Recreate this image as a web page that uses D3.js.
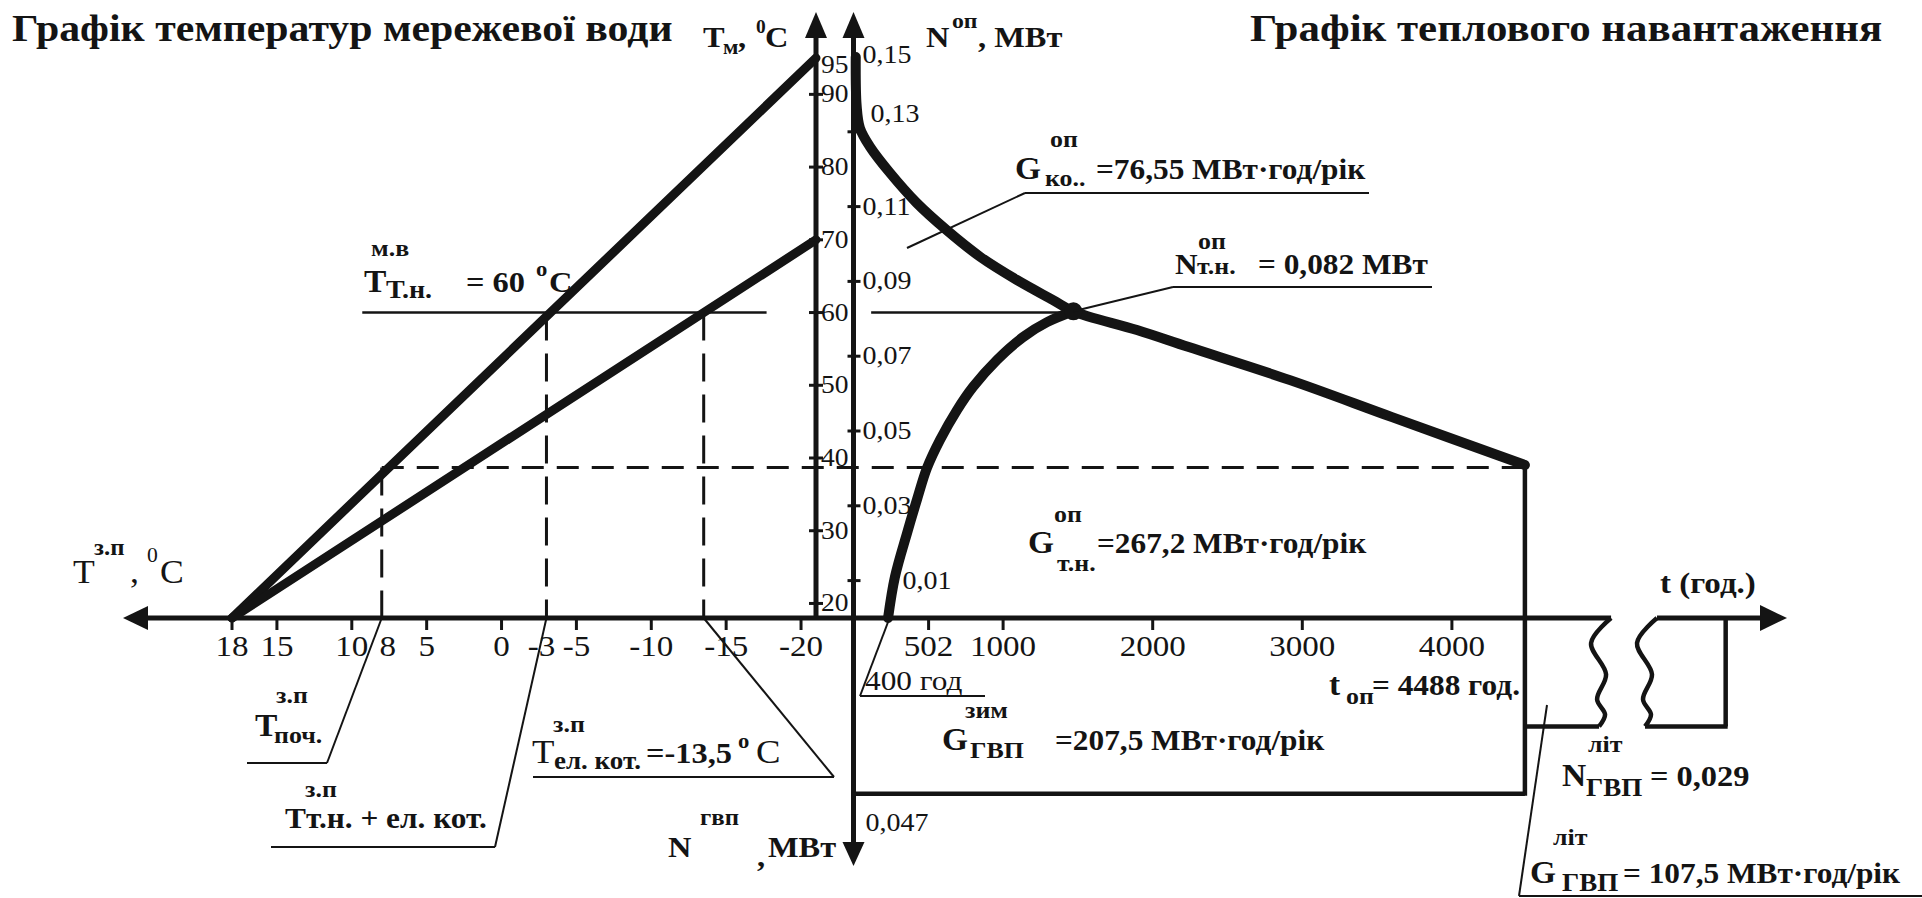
<!DOCTYPE html>
<html>
<head>
<meta charset="utf-8">
<script src="https://cdn.jsdelivr.net/npm/d3@7"></script>
<style>
  body { margin: 0; background: #fff; }
  svg text { font-family: "Liberation Serif", "Times New Roman", serif; fill: #141414; }
</style>
</head>
<body>
<svg id="chart" width="1922" height="898"></svg>
<script>
// ---- left graph: network water temperature vs outdoor temperature ----
const toutTicks = [18, 15, 10, 5, 0, -5, -10, -15, -20];
const toutLabels = [18, 15, 10, 8, 5, 0, -3, -5, -10, -15, -20];
const tmTicks = [20, 30, 40, 50, 60, 70, 80, 90];
const tmLabels = [20, 30, 40, 50, 60, 70, 80, 90, 95];
const supplyLine = [[18, 18], [-21, 95]];   // [outdoor t, water t]
const returnLine = [[18, 18], [-21, 70]];
const tStart = 8;          // T поч
const tBoth = -3;          // T т.н. + ел. кот.
const tBoiler = -13.5;     // T ел. кот.
const pumpTm = 60;         // T т.н. м.в
const startTm = 38.7;
const pumpLineOut = [9.3, -17.7];

// ---- right graph: heat load vs hours ----
const nTicks = [0.01, 0.03, 0.05, 0.07, 0.09, 0.11, 0.13];
const nLabels = ["0,01", "0,03", "0,05", "0,07", "0,09", "0,11", "0,13", "0,15"];
const hourTicks = [502, 1000, 2000, 3000, 4000];
const heatLoad = [[15, 0.150], [21, 0.137], [43, 0.131], [110, 0.126], [244, 0.119], [422, 0.111],
  [623, 0.1037], [846, 0.0966], [1091, 0.0904], [1334, 0.085], [1470, 0.082], [1895, 0.077],
  [2236, 0.0725], [2918, 0.0636], [3600, 0.0537], [4488, 0.0409]];
const pumpLoad = [[231, 0], [277, 0.011], [358, 0.0227], [424, 0.0316], [491, 0.0401], [578, 0.0476],
  [692, 0.0556], [799, 0.0618], [959, 0.069], [1133, 0.0751], [1294, 0.0791], [1470, 0.082]];
const pumpPoint = [1470, 0.082];
const heatingEnd = 4488;
const pumpLineHours = [118, 1470];
const dhwWinter = 0.047;
const dhwSummer = 0.029;
const breakHours = [5064, 5371];   // drawn positions of the axis break
const summerEnd = 5830;
const axisEnd = 6240;
// shape of the break marks: [dx px, share of summer depth]
const breakShape = [[0, 0], [-20, 0.23], [-5, 0.52], [-14, 0.75], [-6, 0.89], [-12, 1]];

const svg = d3.select("#chart");
const axisY = 618;

const xOut = d3.scaleLinear().domain([18, -21]).range([232, 816]);
const yTm = d3.scaleLinear().domain([18, 95]).range([axisY, 58]);
const xHr = d3.scaleLinear().domain([0, 1000]).range([853.5, 1003.1]);
const yN = d3.scaleLinear().domain([0, 0.15]).range([axisY, 57]);
const yDhw = d3.scaleLinear().domain([0, 0.15]).range([axisY, axisY + 561]);

const tAxisX = xOut(-21);
const nAxisX = xHr(0);

function line(x1, y1, x2, y2, w, dash) {
  const l = svg.append("line")
    .attr("x1", x1).attr("y1", y1).attr("x2", x2).attr("y2", y2)
    .attr("stroke", "#141414").attr("stroke-width", w);
  if (dash) l.attr("stroke-dasharray", dash);
  return l;
}
// text, slightly stretched horizontally like the scanned original
function txt(x, y, s, size, bold, anchor, sx) {
  svg.append("text")
    .attr("transform", `translate(${x},${y}) scale(${sx || 1.08},1)`)
    .attr("font-size", size)
    .attr("font-weight", bold ? "bold" : "normal")
    .attr("text-anchor", anchor || "start")
    .text(s);
}
function arrow(pts) {
  svg.append("polygon").attr("points", pts.map(p => p.join(",")).join(" ")).attr("fill", "#141414");
}

// dashed guide lines
line(xOut(tStart), yTm(startTm), xHr(heatingEnd), yTm(startTm), 3, "22,13");
line(xOut(tStart), yTm(startTm), xOut(tStart), axisY, 3, "28,13");
line(xOut(tBoth), yTm(pumpTm), xOut(tBoth), axisY, 3, "28,13");
line(xOut(tBoiler), yTm(pumpTm), xOut(tBoiler), axisY, 3, "28,13");

// 60 °C line
line(xOut(pumpLineOut[0]), yTm(pumpTm), xOut(pumpLineOut[1]), yTm(pumpTm), 2.5);
line(xHr(pumpLineHours[0]), yTm(pumpTm), xHr(pumpLineHours[1]), yTm(pumpTm), 2.5);

// water temperature lines
const tLine = d3.line().x(d => xOut(d[0])).y(d => yTm(d[1]));
[supplyLine, returnLine].forEach(d => {
  svg.append("path").attr("d", tLine(d)).attr("fill", "none")
    .attr("stroke", "#141414").attr("stroke-width", 9).attr("stroke-linecap", "round");
});

// load curves
const nLine = d3.line().x(d => xHr(d[0])).y(d => yN(d[1])).curve(d3.curveCatmullRom);
[heatLoad, pumpLoad].forEach(d => {
  svg.append("path").attr("d", nLine(d)).attr("fill", "none")
    .attr("stroke", "#141414").attr("stroke-width", 10).attr("stroke-linecap", "round");
});
svg.append("circle").attr("cx", xHr(pumpPoint[0])).attr("cy", yN(pumpPoint[1]))
  .attr("r", 9).attr("fill", "#141414");

// end of heating season and DHW rectangles
line(xHr(heatingEnd), yN(heatLoad[heatLoad.length - 1][1]), xHr(heatingEnd), yDhw(dhwWinter) + 2, 4.5);
line(nAxisX, yDhw(dhwWinter), xHr(heatingEnd), yDhw(dhwWinter), 4.5);
line(xHr(heatingEnd), yDhw(dhwSummer), xHr(breakHours[0]) - 12, yDhw(dhwSummer), 4.5);
line(xHr(breakHours[1]) - 12, yDhw(dhwSummer), xHr(summerEnd) + 2, yDhw(dhwSummer), 4.5);
line(xHr(summerEnd), axisY, xHr(summerEnd), yDhw(dhwSummer), 4.5);
const wave = d3.line().curve(d3.curveCatmullRom);
breakHours.forEach(h => {
  svg.append("path")
    .attr("d", wave(breakShape.map(p => [xHr(h) + p[0], yDhw(p[1] * dhwSummer)])))
    .attr("fill", "none").attr("stroke", "#141414").attr("stroke-width", 4.5);
});

// axes
line(140, axisY, xHr(breakHours[0]), axisY, 5);
line(xHr(breakHours[1]), axisY, xHr(axisEnd) - 20, axisY, 5);
line(tAxisX, axisY, tAxisX, 30, 5);
line(nAxisX, 848, nAxisX, 30, 5);
arrow([[123, axisY], [148, axisY - 12], [148, axisY + 12]]);
arrow([[xHr(axisEnd), axisY], [xHr(axisEnd) - 27, axisY - 13], [xHr(axisEnd) - 27, axisY + 13]]);
arrow([[tAxisX, 12], [tAxisX - 11, 38], [tAxisX + 11, 38]]);
arrow([[nAxisX, 12], [nAxisX - 11, 38], [nAxisX + 11, 38]]);
arrow([[nAxisX, 866], [nAxisX - 11, 842], [nAxisX + 11, 842]]);

// ticks
toutTicks.forEach(v => line(xOut(v), axisY, xOut(v), axisY + 12, 3));
hourTicks.forEach(v => line(xHr(v), axisY, xHr(v), axisY + 12, 3));
tmTicks.forEach(v => line(tAxisX - 7, yTm(v), tAxisX + 7, yTm(v), 3));
nTicks.forEach(v => line(nAxisX - 6, yN(v), nAxisX + 7, yN(v), 3));

// tick labels
const outShift = { 8: 6, "-3": -5 };
toutLabels.forEach(v => txt(xOut(v) + (outShift[v] || 0), 656, String(v), 29, false, "middle", 1.14));
hourTicks.forEach(v => txt(xHr(v), 656, String(v), 29, false, "middle", 1.14));
tmLabels.forEach(v => txt(tAxisX + 5, yTm(v) + (v === 95 ? 15 : 8), String(v), 25, false, "start", 1.1));
nLabels.forEach((s, i) => {
  const v = 0.01 + i * 0.02;
  let x = nAxisX + 9, y = yN(v) + 8;
  if (i === 0) x = nAxisX + 49;
  if (i === 6) { x = nAxisX + 17; y = yN(v) - 10; }
  if (i === 7) { y = 63; }
  txt(x, y, s, 25, false, "start", 1.12);
});
txt(nAxisX + 12, 831, "0,047", 25, false, "start", 1.12);

// titles
txt(12, 41, "Графік температур мережевої води", 38, true, "start", 1.1);
txt(1250, 41, "Графік теплового навантаження", 38, true, "start", 1.13);

// axis titles
txt(703, 47, "Т", 30, true); txt(723, 54, "м", 21, true); txt(738, 47, ",", 30, true);
txt(756, 33, "0", 18, true); txt(765, 47, "С", 30, true);
txt(926, 47, "N", 30, true); txt(952, 28, "оп", 22, true); txt(978, 47, ", МВт", 30, true);
txt(73, 583, "Т", 33, false); txt(94, 555, "з.п", 23, true); txt(130, 583, ",", 33, false);
txt(147, 562, "0", 20, false); txt(160, 583, "С", 33, false);
txt(1660, 593, "t (год.)", 30, true, "start", 1.1);
txt(668, 857, "N", 30, true); txt(700, 825, "гвп", 23, true); txt(757, 866, ",", 30, true);
txt(768, 857, "МВт", 30, true);

// annotations: left
txt(371, 256, "м.в", 24, true);
txt(364, 292, "Т", 31, true); txt(386, 298, "Т.н.", 26, true);
txt(466, 292, "= 60", 30, true); txt(536, 276, "o", 21, true); txt(549, 292, "С", 30, true);

txt(276, 703, "з.п", 24, true);
txt(255, 736, "Т", 31, true); txt(274, 743, "поч.", 24, true);
line(247, 763, 327, 763, 2.2); line(327, 763, xOut(tStart), axisY, 2);

txt(305, 797, "з.п", 24, true);
txt(285, 828, "Тт.н. + ел. кот.", 29, true);
line(271, 847, 495, 847, 2.2); line(495, 847, xOut(tBoth), axisY, 2);

txt(553, 732, "з.п", 24, true);
txt(532, 763, "Т", 34, false); txt(554, 769, "ел. кот.", 25, true);
txt(646, 763, "=-13,5", 30, true); txt(738, 748, "o", 21, true); txt(756, 763, "С", 34, false);
line(533, 777, 834, 777, 2.2); line(834, 777, xOut(tBoiler), axisY, 2);

// annotations: right
txt(1050, 147, "оп", 24, true);
txt(1015, 179, "G", 31, true); txt(1045, 186, "ко..", 24, true);
txt(1096, 179, "=76,55 МВт·год/рік", 29, true);
line(1025, 193, 1369, 193, 2.2); line(1025, 193, 907, 248, 2);

txt(1198, 249, "оп", 24, true);
txt(1175, 274, "N", 29, true); txt(1197, 274, "т.н.", 24, true);
txt(1258, 274, "= 0,082 МВт", 29, true);
line(1173, 287, 1432, 287, 2.2); line(1173, 287, xHr(pumpPoint[0]), yN(pumpPoint[1]), 2);

txt(1054, 522, "оп", 24, true);
txt(1028, 553, "G", 31, true); txt(1057, 571, "т.н.", 24, true);
txt(1097, 553, "=267,2 МВт·год/рік", 29, true);

txt(865, 690, "400 год", 27, false, "start", 1.16);
line(860, 696, 985, 696, 2.2); line(860, 696, xHr(pumpLoad[0][0]), axisY + 4, 2);

txt(1329, 695, "t", 31, true); txt(1346, 704, "оп", 24, true);
txt(1372, 695, "= 4488 год.", 29, true);

txt(965, 718, "зим", 24, true);
txt(942, 750, "G", 31, true); txt(970, 758, "ГВП", 24, true);
txt(1055, 750, "=207,5  МВт·год/рік", 29, true);

txt(1588, 752, "літ", 24, true);
txt(1562, 786, "N", 31, true); txt(1586, 796, "ГВП", 25, true);
txt(1650, 786, "= 0,029", 30, true);

txt(1553, 845, "літ", 24, true);
txt(1530, 883, "G", 31, true); txt(1562, 891, "ГВП", 25, true);
txt(1623, 883, "= 107,5  МВт·год/рік", 29, true);
line(1519, 896, 1922, 896, 2.2); line(1519, 896, 1547, 705, 2);
</script>
</body>
</html>
